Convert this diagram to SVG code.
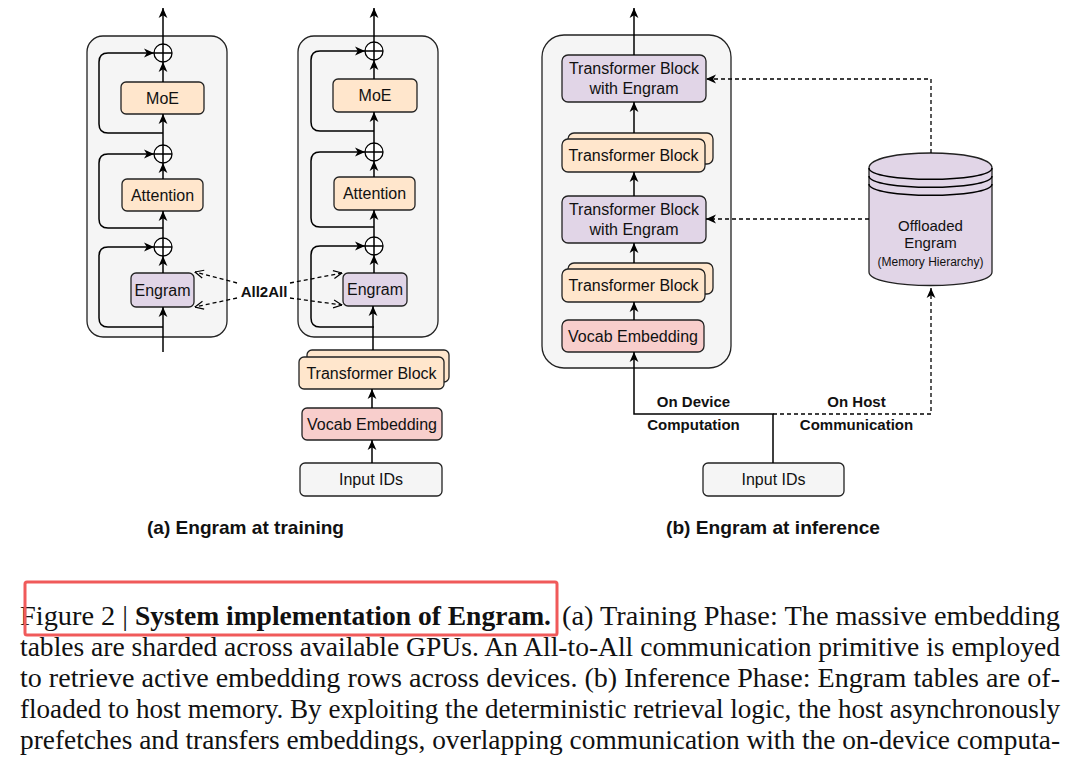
<svg xmlns="http://www.w3.org/2000/svg" width="1080" height="757" viewBox="0 0 1080 757">
  <defs>
    <!-- filled arrowhead for solid and host links -->
    <marker id="arr" viewBox="0 0 10 10" refX="10" refY="5" markerWidth="10" markerHeight="10" markerUnits="userSpaceOnUse" orient="auto">
      <path d="M0,0.6 L10,5 L0,9.4 L2.8,5 Z" fill="#000"/>
    </marker>
    <!-- open chevron for the All2All exchange -->
    <marker id="open" viewBox="0 0 10 10" refX="9.5" refY="5" markerWidth="10" markerHeight="10" markerUnits="userSpaceOnUse" orient="auto">
      <path d="M1,1 L9.5,5 L1,9" fill="none" stroke="#000" stroke-width="1.2"/>
    </marker>
    <style>
      .frame { fill: #f5f5f5; stroke: #222; stroke-width: 1.3; }
      .box { stroke: #222; stroke-width: 1.3; }
      .orange { fill: #ffe6cc; }
      .purple { fill: #e1d5e7; }
      .pink { fill: #f8cecc; }
      .grey { fill: #f5f5f5; }
      .lbl { font-family: "Liberation Sans", Arial, sans-serif; font-size: 16px; fill: #111; text-anchor: middle; }
      .lbl15 { font-size: 15px; }
      .lbl12 { font-size: 12px; }
      .bold { font-family: "Liberation Sans", Arial, sans-serif; font-size: 15px; font-weight: bold; fill: #111; text-anchor: middle; }
      .cap { font-family: "Liberation Sans", Arial, sans-serif; font-size: 19px; font-weight: bold; fill: #111; }
      .line { fill: none; stroke: #000; stroke-width: 1.5; }
      .dash { fill: none; stroke: #000; stroke-width: 1.3; stroke-dasharray: 4 3; }
      .plus { fill: #fff; stroke: #000; stroke-width: 1.3; }
      .para { font-family: "Liberation Serif", "Times New Roman", serif; font-size: 25px; fill: #111; }
    </style>
  </defs>

  <!-- ===== (a) training: two device replicas ===== -->
  <g id="train-frame-1"><rect class="frame" x="87" y="36" width="140" height="301" rx="16"/></g>
  <g id="train-frame-2"><rect class="frame" x="298" y="36" width="140" height="301" rx="16"/></g>

  <g id="moe-1"><rect class="box orange" x="121" y="82" width="83" height="32" rx="5"/><text class="lbl" x="162.5" y="103.7">MoE</text></g>
  <g id="attn-1"><rect class="box orange" x="122" y="179" width="81" height="32" rx="5"/><text class="lbl" x="162.5" y="200.7">Attention</text></g>
  <g id="engram-1"><rect class="box purple" x="131" y="273" width="63" height="34" rx="5"/><text class="lbl" x="162.5" y="295.7">Engram</text></g>

  <g id="moe-2"><rect class="box orange" x="333" y="79" width="84" height="33" rx="5"/><text class="lbl" x="375" y="101.2">MoE</text></g>
  <g id="attn-2"><rect class="box orange" x="334" y="177" width="81" height="33" rx="5"/><text class="lbl" x="374.5" y="199.2">Attention</text></g>
  <g id="engram-2"><rect class="box purple" x="343" y="273" width="64" height="33" rx="5"/><text class="lbl" x="375" y="295.2">Engram</text></g>

  <g id="tblock-a">
    <rect class="box orange" x="307" y="350" width="142" height="32" rx="5"/>
    <rect class="box orange" x="299" y="357" width="145" height="32" rx="5"/>
    <text class="lbl" x="371.5" y="378.7">Transformer Block</text>
  </g>
  <g id="vocab-a"><rect class="box pink" x="302" y="408" width="140" height="32" rx="5"/><text class="lbl" x="372" y="429.7">Vocab Embedding</text></g>
  <g id="input-a"><rect class="box grey" x="300" y="463" width="142" height="33" rx="5"/><text class="lbl" x="371" y="485.2">Input IDs</text></g>

  <!-- residual adders -->
  <g id="add-1a"><circle class="plus" cx="163" cy="53" r="9"/><path class="line" d="M154,53 H172 M163,44 V62" stroke-width="1.2"/></g>
  <g id="add-1b"><circle class="plus" cx="163" cy="154" r="9"/><path class="line" d="M154,154 H172 M163,145 V163" stroke-width="1.2"/></g>
  <g id="add-1c"><circle class="plus" cx="163" cy="247" r="9"/><path class="line" d="M154,247 H172 M163,238 V256" stroke-width="1.2"/></g>
  <g id="add-2a"><circle class="plus" cx="374" cy="51" r="9"/><path class="line" d="M365,51 H383 M374,42 V60" stroke-width="1.2"/></g>
  <g id="add-2b"><circle class="plus" cx="374" cy="152" r="9"/><path class="line" d="M365,152 H383 M374,143 V161" stroke-width="1.2"/></g>
  <g id="add-2c"><circle class="plus" cx="374" cy="246" r="9"/><path class="line" d="M365,246 H383 M374,237 V255" stroke-width="1.2"/></g>

  <!-- ===== (b) inference ===== -->
  <g id="infer-frame"><rect class="frame" x="542" y="35" width="189" height="333" rx="22"/></g>

  <g id="tbe-top"><rect class="box purple" x="562" y="55" width="144" height="47" rx="6"/>
    <text class="lbl" x="634" y="74.2">Transformer Block</text><text class="lbl" x="634" y="94.2">with Engram</text></g>
  <g id="tblock-b1">
    <rect class="box orange" x="568" y="133" width="145" height="31" rx="6"/>
    <rect class="box orange" x="562" y="139" width="143" height="33" rx="6"/>
    <text class="lbl" x="633.5" y="161.2">Transformer Block</text>
  </g>
  <g id="tbe-mid"><rect class="box purple" x="562" y="196" width="144" height="47" rx="6"/>
    <text class="lbl" x="634" y="215.2">Transformer Block</text><text class="lbl" x="634" y="235.2">with Engram</text></g>
  <g id="tblock-b2">
    <rect class="box orange" x="568" y="263" width="145" height="31" rx="6"/>
    <rect class="box orange" x="562" y="269" width="143" height="33" rx="6"/>
    <text class="lbl" x="633.5" y="291.2">Transformer Block</text>
  </g>
  <g id="vocab-b"><rect class="box pink" x="562" y="320" width="142" height="32" rx="6"/><text class="lbl" x="633" y="341.7">Vocab Embedding</text></g>
  <g id="input-b"><rect class="box grey" x="703" y="463" width="141" height="33" rx="5"/><text class="lbl" x="773.5" y="485.2">Input IDs</text></g>

  <g id="offloaded-engram">
    <path class="box purple" d="M869,168 C869,148 992,148 992,168 L992,272 C992,290 869,290 869,272 Z"/>
    <path class="line" stroke-width="1.3" d="M869,168 C869,183 992,183 992,168 M869,176 C869,191 992,191 992,176 M869,184 C869,199 992,199 992,184"/>
    <text class="lbl lbl15" x="930.5" y="231.4">Offloaded</text>
    <text class="lbl lbl15" x="930.5" y="248.4">Engram</text>
    <text class="lbl lbl12" x="930.5" y="266.3">(Memory Hierarchy)</text>
  </g>

  <!-- ===== connectors ===== -->
  <g id="connectors">
    <!-- replica 1 data path -->
    <path class="line" marker-end="url(#arr)" d="M163,352 V307"/>
    <path class="line" marker-end="url(#arr)" d="M163,273 V256"/>
    <path class="line" marker-end="url(#arr)" d="M163,238 V211"/>
    <path class="line" marker-end="url(#arr)" d="M163,179 V163"/>
    <path class="line" marker-end="url(#arr)" d="M163,145 V114"/>
    <path class="line" marker-end="url(#arr)" d="M163,82 V62"/>
    <path class="line" marker-end="url(#arr)" d="M163,44 V8"/>
    <path class="line" marker-end="url(#arr)" d="M163,327 H108 Q99,327 99,318 V256 Q99,247 108,247 H154"/>
    <path class="line" marker-end="url(#arr)" d="M163,228 H108 Q99,228 99,219 V163 Q99,154 108,154 H154"/>
    <path class="line" marker-end="url(#arr)" d="M163,133 H108 Q99,133 99,124 V62 Q99,53 108,53 H154"/>

    <!-- replica 2 data path -->
    <path class="line" marker-end="url(#arr)" d="M373,350 V306"/>
    <path class="line" marker-end="url(#arr)" d="M374,273 V255"/>
    <path class="line" marker-end="url(#arr)" d="M374,237 V210"/>
    <path class="line" marker-end="url(#arr)" d="M374,177 V161"/>
    <path class="line" marker-end="url(#arr)" d="M374,143 V112"/>
    <path class="line" marker-end="url(#arr)" d="M374,79 V60"/>
    <path class="line" marker-end="url(#arr)" d="M374,42 V8"/>
    <path class="line" marker-end="url(#arr)" d="M374,327 H320 Q311,327 311,318 V255 Q311,246 320,246 H365"/>
    <path class="line" marker-end="url(#arr)" d="M374,227 H320 Q311,227 311,218 V161 Q311,152 320,152 H365"/>
    <path class="line" marker-end="url(#arr)" d="M374,131 H320 Q311,131 311,122 V60 Q311,51 320,51 H365"/>
    <path class="line" marker-end="url(#arr)" d="M372,408 V389"/>
    <path class="line" marker-end="url(#arr)" d="M372,463 V440"/>

    <!-- All2All exchange -->
    <path class="dash" marker-end="url(#open)" d="M237,283 L195,272"/>
    <path class="dash" marker-end="url(#open)" d="M237,298 L195,307"/>
    <path class="dash" marker-end="url(#open)" d="M290,283 L342,273"/>
    <path class="dash" marker-end="url(#open)" d="M290,298 L342,305"/>
    <text class="bold" x="264" y="297.4">All2All</text>

    <!-- inference data path -->
    <path class="line" marker-end="url(#arr)" d="M634,55 V8"/>
    <path class="line" marker-end="url(#arr)" d="M634,133 V102"/>
    <path class="line" marker-end="url(#arr)" d="M634,196 V172"/>
    <path class="line" marker-end="url(#arr)" d="M634,263 V243"/>
    <path class="line" marker-end="url(#arr)" d="M634,320 V302"/>
    <path class="line" marker-end="url(#arr)" d="M773,463 V414 H634 V352"/>

    <!-- host-side prefetch -->
    <path class="dash" marker-end="url(#arr)" d="M773,414 H931 V288"/>
    <path class="dash" marker-end="url(#arr)" d="M931,153 V79 H706"/>
    <path class="dash" marker-end="url(#arr)" d="M869,219 H706"/>

    <text class="bold" x="693.5" y="407.4">On Device</text>
    <text class="bold" x="693.5" y="430.4">Computation</text>
    <text class="bold" x="856.5" y="407.4">On Host</text>
    <text class="bold" x="856.5" y="430.4">Communication</text>
  </g>

  <!-- sub-figure titles -->
  <text class="cap" x="147" y="534" textLength="197" lengthAdjust="spacingAndGlyphs">(a) Engram at training</text>
  <text class="cap" x="666" y="534" textLength="214" lengthAdjust="spacingAndGlyphs">(b) Engram at inference</text>

  <!-- figure caption: set in a narrow, tall serif (vertical stretch keeps the glyphs tall) -->
  <text class="para" transform="translate(20,625) scale(1,1.12)" x="0" y="0" textLength="108" lengthAdjust="spacingAndGlyphs">Figure 2 |</text>
  <text class="para" transform="translate(135,625) scale(1,1.12)" x="0" y="0" font-weight="bold" textLength="416" lengthAdjust="spacingAndGlyphs">System implementation of Engram.</text>
  <text class="para" transform="translate(562,625) scale(1,1.12)" x="0" y="0" textLength="498" lengthAdjust="spacingAndGlyphs">(a) Training Phase: The massive embedding</text>
  <text class="para" transform="translate(20,656) scale(1,1.12)" x="0" y="0" textLength="1040" lengthAdjust="spacingAndGlyphs">tables are sharded across available GPUs. An All-to-All communication primitive is employed</text>
  <text class="para" transform="translate(20,687) scale(1,1.12)" x="0" y="0" textLength="1040" lengthAdjust="spacingAndGlyphs">to retrieve active embedding rows across devices. (b) Inference Phase: Engram tables are of-</text>
  <text class="para" transform="translate(20,718) scale(1,1.12)" x="0" y="0" textLength="1040" lengthAdjust="spacingAndGlyphs">floaded to host memory. By exploiting the deterministic retrieval logic, the host asynchronously</text>
  <text class="para" transform="translate(20,749) scale(1,1.12)" x="0" y="0" textLength="1040" lengthAdjust="spacingAndGlyphs">prefetches and transfers embeddings, overlapping communication with the on-device computa-</text>

  <!-- highlight around the caption title -->
  <rect x="25" y="582" width="532" height="53" rx="2" fill="none" stroke="#f05a5a" stroke-width="3"/>
</svg>
